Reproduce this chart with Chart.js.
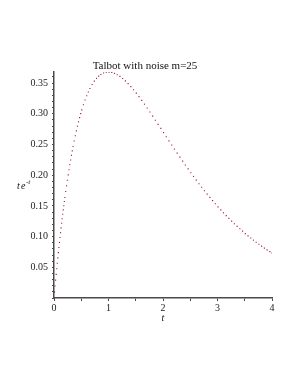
<!DOCTYPE html>
<html>
<head>
<meta charset="utf-8">
<script src="https://cdn.jsdelivr.net/npm/chart.js@4/dist/chart.umd.min.js"></script>
<style>
  html, body { margin: 0; padding: 0; background: #fff; }
  #wrap { width: 295px; height: 382px; }
</style>
</head>
<body>
<div id="wrap"><canvas id="chart"></canvas></div>
<script>
// sample times (t) and the plotted values
const tValues = [
  0.00, 0.01, 0.02, 0.03, 0.04, 0.05, 0.06, 0.07, 0.08, 0.09, 0.10,
  0.11, 0.12, 0.13, 0.14, 0.15, 0.16, 0.17, 0.18, 0.19, 0.20,
  0.215, 0.23, 0.245, 0.26, 0.275, 0.29, 0.305, 0.32, 0.335, 0.35,
  0.37, 0.39, 0.41, 0.43, 0.45, 0.47, 0.49, 0.51,
  0.54, 0.57, 0.60, 0.63, 0.66, 0.70, 0.74, 0.78, 0.82, 0.86,
  0.91, 0.96, 1.01, 1.06, 1.11, 1.16, 1.21, 1.26, 1.31, 1.36,
  1.41, 1.46, 1.51, 1.56, 1.61, 1.66, 1.71, 1.76, 1.81, 1.86,
  1.91, 1.96, 2.01, 2.06, 2.11, 2.16, 2.21, 2.26, 2.31, 2.36,
  2.41, 2.46, 2.51, 2.56, 2.61, 2.66, 2.71, 2.76, 2.81, 2.86,
  2.91, 2.96, 3.01, 3.06, 3.11, 3.16, 3.21, 3.26, 3.31, 3.36,
  3.41, 3.46, 3.51, 3.56, 3.61, 3.66, 3.71, 3.76, 3.81, 3.86,
  3.91, 3.96, 4.00
];
const yValues = [
  0.0000, 0.0099, 0.0196, 0.0291, 0.0384, 0.0476, 0.0565, 0.0653, 0.0738, 0.0823, 0.0905,
  0.0985, 0.1064, 0.1142, 0.1217, 0.1291, 0.1363, 0.1434, 0.1503, 0.1571, 0.1637,
  0.1734, 0.1827, 0.1918, 0.2005, 0.2089, 0.2170, 0.2248, 0.2324, 0.2396, 0.2466,
  0.2556, 0.2641, 0.2721, 0.2797, 0.2869, 0.2938, 0.3002, 0.3063,
  0.3147, 0.3224, 0.3293, 0.3355, 0.3411, 0.3476, 0.3531, 0.3576, 0.3612, 0.3639,
  0.3663, 0.3676, 0.3679, 0.3672, 0.3658, 0.3636, 0.3608, 0.3574, 0.3535, 0.3491,
  0.3442, 0.3391, 0.3336, 0.3278, 0.3218, 0.3156, 0.3093, 0.3028, 0.2962, 0.2895,
  0.2828, 0.2761, 0.2693, 0.2625, 0.2558, 0.2491, 0.2424, 0.2358, 0.2293, 0.2228,
  0.2165, 0.2102, 0.2040, 0.1979, 0.1919, 0.1861, 0.1803, 0.1747, 0.1692, 0.1638,
  0.1585, 0.1534, 0.1484, 0.1435, 0.1387, 0.1341, 0.1296, 0.1252, 0.1209, 0.1167,
  0.1127, 0.1088, 0.1049, 0.1012, 0.0977, 0.0942, 0.0908, 0.0875, 0.0844, 0.0813,
  0.0784, 0.0755, 0.0733
];

const serif = "'Liberation Serif', 'DejaVu Serif', serif";
const axisColor = "#4a4a4a";

// title and axis names drawn as text on the canvas
const textPlugin = {
  id: "textLabels",
  afterDraw(chart) {
    const ctx = chart.ctx;
    ctx.save();
    ctx.fillStyle = "#111";
    ctx.textBaseline = "middle";

    ctx.font = "11px " + serif;
    ctx.textAlign = "center";
    ctx.fillText("Talbot with noise m=25", 145, 66);

    // x axis name
    ctx.font = "italic 10px " + serif;
    ctx.fillText("t", chart.scales.x.getPixelForValue(2), 318);

    // y axis name: t e^(-t)
    ctx.textAlign = "left";
    ctx.font = "italic 10px " + serif;
    ctx.fillText("t", 17, 186);
    ctx.fillText("e", 21, 186);
    ctx.font = "italic 7px " + serif;
    ctx.fillText("-t", 26, 182);
    ctx.restore();
  },
};

new Chart(document.getElementById("chart"), {
  type: "scatter",
  data: {
    datasets: [
      {
        data: tValues.map((t, i) => ({ x: t, y: yValues[i] })),
        backgroundColor: "#9e1c3a",
        borderWidth: 0,
        pointRadius: 0.8,
        pointStyle: "rect",
        showLine: false,
      },
    ],
  },
  options: {
    responsive: true,
    maintainAspectRatio: false,
    animation: false,
    layout: { padding: { top: 72, right: 23, bottom: 0, left: 0 } },
    plugins: {
      legend: { display: false },
      tooltip: { enabled: false },
      title: { display: false },
    },
    scales: {
      x: {
        type: "linear",
        min: 0,
        max: 4,
        afterFit: (scale) => { scale.height = 84; },
        border: { display: true, color: axisColor, width: 1.5 },
        grid: { drawOnChartArea: false, drawTicks: true, tickLength: 3, color: axisColor },
        ticks: {
          stepSize: 0.5,
          autoSkip: false,
          maxRotation: 0,
          padding: 1,
          color: "#222",
          font: { size: 10, family: serif },
          callback: (v) => (Number.isInteger(v) ? String(v) : ""),
        },
      },
      y: {
        type: "linear",
        min: 0,
        max: 0.368,
        afterFit: (scale) => { scale.width = 54; },
        border: { display: true, color: axisColor, width: 1.5 },
        grid: { drawOnChartArea: false, drawTicks: true, tickLength: 2, color: axisColor },
        ticks: {
          stepSize: 0.01,
          includeBounds: false,
          autoSkip: false,
          padding: 4,
          color: "#222",
          font: { size: 10, family: serif },
          callback: (v) => {
            const k = Math.round(v * 100);
            return k > 0 && k % 5 === 0 ? (k / 100).toFixed(2) : "";
          },
        },
      },
    },
  },
  plugins: [textPlugin],
});
</script>
</body>
</html>
